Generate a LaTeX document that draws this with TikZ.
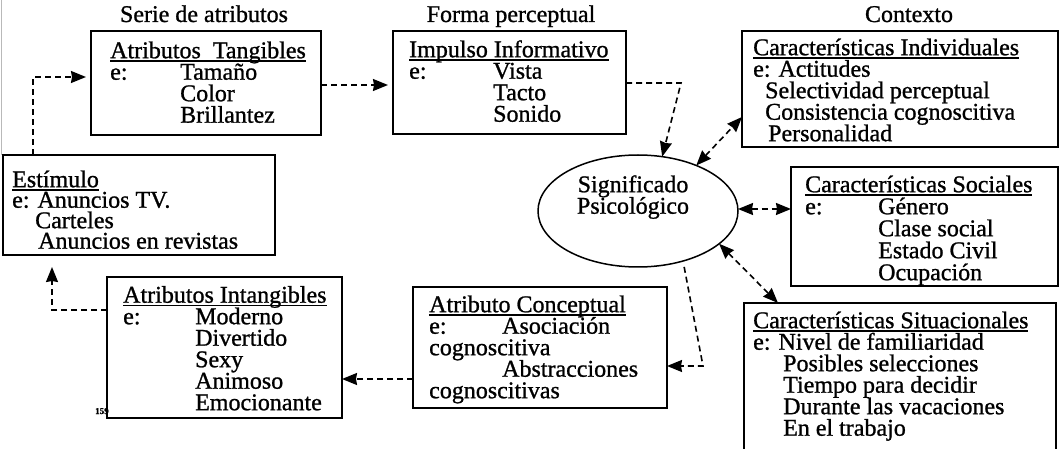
\documentclass[tikz,border=0pt]{standalone}
\usepackage{fontspec}
\setmainfont{Liberation Serif}[FakeBold=1]
\usetikzlibrary{shapes.geometric,arrows.meta,calc}
\newlength\ulw
\newcommand\myul[1]{\settowidth{\ulw}{#1}\rlap{\rule[-3.5pt]{\ulw}{1.3pt}}#1}
\newcommand\fst{\rule{0pt}{19pt}}
\newcommand\bxfont{\fontsize{24}{21.5}\selectfont\lineskiplimit=-100pt\relax}
\newcommand\bxfontb{\fontsize{24}{20.5}\selectfont\lineskiplimit=-100pt\relax}
\newcommand\bxfontc{\fontsize{24}{22}\selectfont\lineskiplimit=-100pt\relax}
\begin{document}
\begin{tikzpicture}[x=1pt,y=-1pt,
  box/.style={draw,line width=1.5pt,rectangle,inner sep=0pt,outer sep=0pt},
  txt/.style={anchor=north west,inner sep=0pt,align=left,font=\bxfont},
  ttl/.style={anchor=base,inner sep=0pt,font=\bxfont},
  >={Stealth[length=15pt,width=12pt,inset=1pt]},
  conn/.style={line width=1.6pt,dash pattern=on 6pt off 4pt}
]
\clip (0,0) rectangle (1061,449);
\draw[gray!55,line width=0.8pt] (1.5,0) -- (1.5,155);

% titles
\node[ttl] (t1) at (204,22) {Serie de atributos};
\node[ttl] (t2) at (511,22) {Forma perceptual};
\node[ttl] (t3) at (909,22) {Contexto};

% boxes
\node[box,minimum width=230,minimum height=104] (tang) at (206,83) {};
\node[box,minimum width=233,minimum height=103] (imp) at (509.5,82.5) {};
\node[box,minimum width=316,minimum height=116] (ind) at (900,89) {};
\node[box,minimum width=272,minimum height=100] (est) at (139,205) {};
\node[box,minimum width=267,minimum height=119] (soc) at (924.5,226.5) {};
\node[box,minimum width=312,minimum height=160] (sit) at (900,383) {};
\node[box,minimum width=235,minimum height=141] (int) at (224.5,347.5) {};
\node[box,minimum width=254,minimum height=121] (conc) at (540,347.5) {};
\node[draw,ellipse,line width=1.5pt,minimum width=200,minimum height=112,inner sep=0pt,outer sep=0pt] (sig) at (638,211) {};

% texts
\node[txt] (tangT) at (110,39) {\fst\myul{Atributos\ \ Tangibles}\\
  \makebox[70pt][l]{e:}Tamaño\\ \hspace*{70pt}Color\\ \hspace*{70pt}Brillantez};
\node[txt] (impT) at (409,38) {\fst\myul{Impulso Informativo}\\
  \makebox[84pt][l]{e:}Vista\\ \hspace*{84pt}Tacto\\ \hspace*{84pt}Sonido};
\node[txt] (indT) at (753,36) {\fst\myul{Características Individuales}\\
  e: Actitudes\\ \hspace*{12pt}Selectividad perceptual\\ \hspace*{12pt}Consistencia cognoscitiva\\ \hspace*{15pt}Personalidad};
\node[txt,font=\bxfontb] (estT) at (12,168) {\fst\myul{Estímulo}\\
  e: Anuncios TV.\\ \hspace*{23pt}Carteles\\ \hspace*{26pt}Anuncios en revistas};
\node[txt,font=\bxfontc] (socT) at (805,173) {\fst\myul{Características Sociales}\\
  \makebox[73pt][l]{e:}Género\\ \hspace*{73pt}Clase social\\ \hspace*{73pt}Estado Civil\\ \hspace*{73pt}Ocupación};
\node[txt] (sitT) at (753,309) {\fst\myul{Características Situacionales}\\
  e: Nivel de familiaridad\\ \hspace*{30pt}Posibles selecciones\\ \hspace*{30pt}Tiempo para decidir\\ \hspace*{30pt}Durante las vacaciones\\ \hspace*{30pt}En el trabajo};
\node[txt] (intT) at (123,283.5) {\fst\myul{Atributos Intangibles}\\
  \makebox[72pt][l]{e:}Moderno\\ \hspace*{72pt}Divertido\\ \hspace*{72pt}Sexy\\ \hspace*{72pt}Animoso\\ \hspace*{72pt}Emocionante};
\node[txt] (concT) at (429,293) {\fst\myul{Atributo Conceptual}\\
  \makebox[73pt][l]{e:}Asociación\\ cognoscitiva\\ \hspace*{73pt}Abstracciones\\ cognoscitivas};
\node[anchor=north,inner sep=0pt,align=center,font=\bxfont] (sigT) at (633,173) {\fst Significado\\Psicológico};
\node[anchor=base west,inner sep=0pt,font=\fontsize{9}{9}\selectfont\bfseries] (pg) at (95,414) {159};

% connectors
\coordinate (c1) at (681,83);
\coordinate (c2) at (703,366);
\draw[conn,->,shorten >=5pt] ([xshift=30pt]est.north west) |- ([yshift=6pt]tang.west);
\draw[conn,->,shorten >=5pt] ([yshift=-2pt]tang.east) -- ([yshift=-2pt]tang.east -| imp.west);
\draw[conn,->] (imp.east |- c1) -- (c1) -- (sig.66);
\draw[conn,<->] (sig.38) -- ([yshift=-28pt]ind.west);
\draw[conn,<->] ([yshift=2pt]sig.east) -- ([yshift=2pt]sig.east -| soc.west);
\draw[conn,<->] (sig.-22) -- ([xshift=34pt]sit.north west);
\draw[conn,->,shorten <=6pt] (sig.-48) -- (c2) -- (c2 -| conc.east);
\draw[conn,->] ([yshift=-31.5pt]conc.west) -- ([yshift=-31.5pt]conc.west -| int.east);
\draw[conn,->,shorten >=12pt] ([yshift=37.5pt]int.west) -| ([xshift=49pt]est.south west);
\end{tikzpicture}
\end{document}
